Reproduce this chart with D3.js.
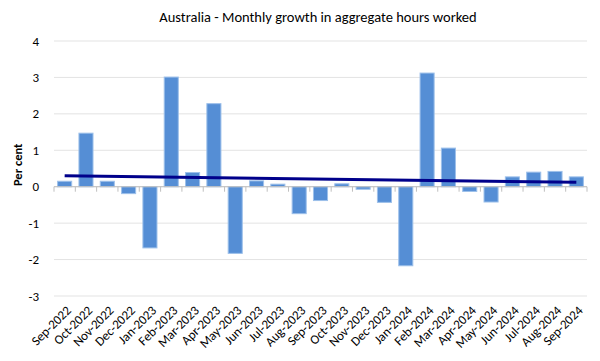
<!DOCTYPE html>
<html>
<head>
<meta charset="utf-8">
<script src="https://cdn.jsdelivr.net/npm/d3@7"></script>
<style>
  body { margin: 0; background: #fff; }
  svg { font-family: Calibri, Carlito, Lato, "Open Sans", sans-serif; }
</style>
</head>
<body>
<div id="chart"></div>
<script>
// data
var months = ["Sep-2022","Oct-2022","Nov-2022","Dec-2022","Jan-2023","Feb-2023","Mar-2023",
  "Apr-2023","May-2023","Jun-2023","Jul-2023","Aug-2023","Sep-2023","Oct-2023","Nov-2023",
  "Dec-2023","Jan-2024","Feb-2024","Mar-2024","Apr-2024","May-2024","Jun-2024","Jul-2024",
  "Aug-2024","Sep-2024"];
var growth = [0.15, 1.47, 0.15, -0.19, -1.68, 3.01, 0.39, 2.28, -1.83, 0.16, 0.07, -0.74, -0.38,
  0.08, -0.07, -0.43, -2.17, 3.12, 1.06, -0.13, -0.42, 0.27, 0.40, 0.42, 0.27];
var yTicks = [4, 3, 2, 1, 0, -1, -2, -3];

var data = months.map(function (m, i) { return { month: m, value: growth[i] }; });

var W = 600, H = 361;
var margin = { top: 41, right: 13, bottom: 65, left: 54 },
    width = W - margin.left - margin.right,
    height = 296 - margin.top;

var svg = d3.select("#chart").append("svg")
  .attr("width", W).attr("height", H);

svg.append("text")
  .attr("x", 318).attr("y", 22)
  .attr("text-anchor", "middle")
  .style("font-size", "14.5px")
  .style("fill", "#000")
  .text("Australia - Monthly growth in aggregate hours worked");

var g = svg.append("g")
  .attr("transform", "translate(" + margin.left + "," + margin.top + ")");

var x = d3.scaleBand().domain(months).range([0, width]).paddingInner(0.34).paddingOuter(0.17);
var y = d3.scaleLinear().domain([-3, 4]).range([height, 0]);

// gridlines
g.append("g").selectAll("line").data(yTicks).enter().append("line")
  .attr("x1", 0).attr("x2", width)
  .attr("y1", function (d) { return y(d); }).attr("y2", function (d) { return y(d); })
  .attr("stroke", "#e3e3e3").attr("stroke-width", 1);

// y labels
g.append("g").selectAll("text").data(yTicks).enter().append("text")
  .attr("x", -15).attr("y", function (d) { return y(d); })
  .attr("dy", "0.35em")
  .attr("text-anchor", "end")
  .style("font-size", "13px")
  .text(function (d) { return d; });

svg.append("text")
  .attr("transform", "translate(22," + (margin.top + y(0.6)) + ") rotate(-90)")
  .attr("text-anchor", "middle")
  .style("font-size", "12.5px").style("font-weight", "bold")
  .text("Per cent");

// bars
g.selectAll(".bar").data(data).enter().append("rect")
  .attr("class", "bar")
  .attr("x", function (d) { return x(d.month); })
  .attr("y", function (d) { return y(Math.max(0, d.value)); })
  .attr("width", x.bandwidth())
  .attr("height", function (d) { return Math.abs(y(d.value) - y(0)); })
  .attr("fill", "#558ed5")
  .attr("stroke", "#9dc0ea").attr("stroke-width", 1);

// zero axis with ticks between categories
g.append("line")
  .attr("x1", 0).attr("x2", width)
  .attr("y1", y(0)).attr("y2", y(0))
  .attr("stroke", "#bfbfbf");
var step = x.step();
var bounds = d3.range(months.length + 1).map(function (i) { return i * step; });
g.append("g").selectAll("line").data(bounds).enter().append("line")
  .attr("x1", function (d) { return d; }).attr("x2", function (d) { return d; })
  .attr("y1", y(0)).attr("y2", y(0) + 5)
  .attr("stroke", "#bfbfbf");

// linear trend (least squares)
var n = growth.length;
var mx = d3.mean(d3.range(n)), my = d3.mean(growth);
var slope = d3.sum(growth, function (v, i) { return (i - mx) * (v - my); }) /
  d3.sum(d3.range(n), function (i) { return (i - mx) * (i - mx); });
var trend = [0, n - 1].map(function (i) { return { month: months[i], value: my + slope * (i - mx) }; });
g.append("path")
  .datum(trend)
  .attr("fill", "none")
  .attr("stroke", "#00008b")
  .attr("stroke-width", 3)
  .attr("d", d3.line()
    .x(function (d) { return x(d.month) + x.bandwidth() / 2; })
    .y(function (d) { return y(d.value); }));

// x labels at bottom, rotated
g.append("g").selectAll("text").data(months).enter().append("text")
  .attr("transform", function (d) {
    return "translate(" + (x(d) + x.bandwidth() / 2 + 4) + "," + (height + 12) + ") rotate(-45)";
  })
  .attr("text-anchor", "end")
  .attr("dy", "0.35em")
  .style("font-size", "13px")
  .text(function (d) { return d; });
</script>
</body>
</html>
